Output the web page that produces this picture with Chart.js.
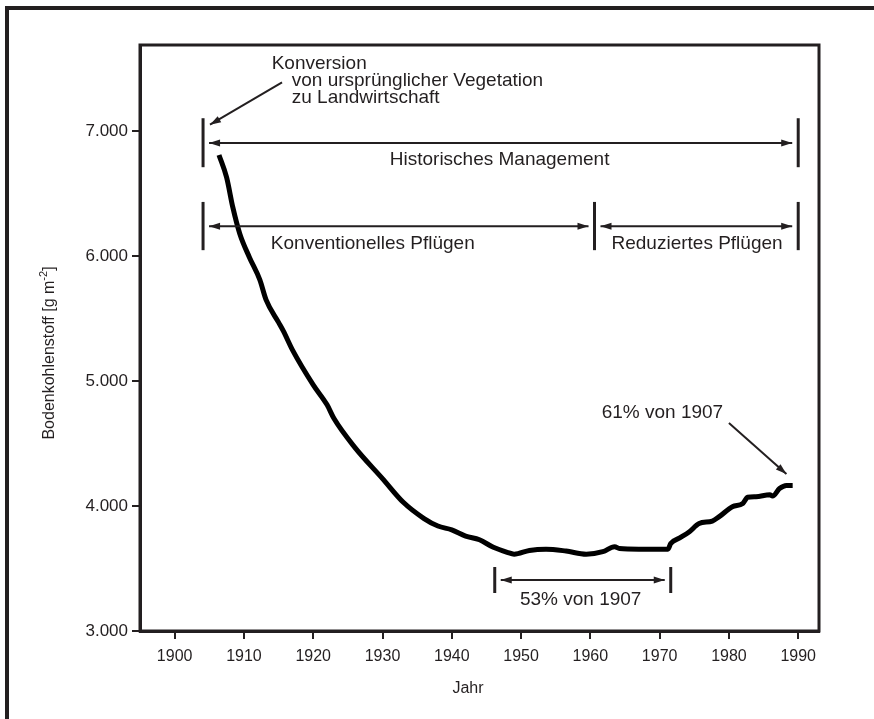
<!DOCTYPE html>
<html lang="de">
<head>
<meta charset="UTF-8">
<title>Bodenkohlenstoff</title>
<style>
  html, body { margin: 0; padding: 0; background: #fff; }
  canvas { display: block; }
</style>
<script src="https://cdn.jsdelivr.net/npm/chart.js@4"></script>
</head>
<body>
<canvas id="chart" width="874" height="719"></canvas>
<script>
// Werte
const years = [1906.4, 1907.5, 1908.4, 1909.4, 1910.8, 1912.3, 1913.2, 1915, 1915.7, 1917,
  1920, 1922, 1923, 1926, 1930, 1933, 1936, 1938, 1940, 1942, 1944, 1946, 1948, 1949,
  1951.2, 1953.6, 1956.5, 1959.4, 1961.8, 1963.5, 1964.2, 1967, 1971.2, 1971.6, 1972.9,
  1974.3, 1975.7, 1977.6, 1978.6, 1980.5, 1982, 1982.7, 1983.9, 1985.9, 1986.3, 1987.3,
  1988.3, 1989.2];
const carbon = [6810, 6630, 6390, 6180, 5990, 5810, 5650, 5470, 5400, 5250,
  4970, 4810, 4700, 4470, 4220, 4030, 3900, 3840, 3810, 3760, 3730, 3670, 3630, 3615,
  3645, 3655, 3640, 3615, 3635, 3675, 3660, 3655, 3655, 3700, 3745,
  3795, 3860, 3880, 3915, 3995, 4020, 4070, 4075, 4090, 4080, 4140,
  4165, 4165];

const xTicks = [1900, 1910, 1920, 1930, 1940, 1950, 1960, 1970, 1980, 1990];
const yTicks = [3000, 4000, 5000, 6000, 7000];
const yTickLabels = ['3.000', '4.000', '5.000', '6.000', '7.000'];

// Zeitabschnitte (Jahre)
const historyYears = [1904.1, 1990];
const conventionalYears = [1904.1, 1960.6];
const reducedYears = [1960.6, 1990];
const lowYears = [1946.2, 1971.6];

const INK = '#231f20';
const FONT = '"Liberation Sans", Arial, sans-serif';

function arrowHead(ctx, x1, y1, x2, y2) {
  const a = Math.atan2(y2 - y1, x2 - x1);
  const len = 11, w = 3.5;
  ctx.beginPath();
  ctx.moveTo(x2, y2);
  ctx.lineTo(x2 - len * Math.cos(a) + w * Math.sin(a), y2 - len * Math.sin(a) - w * Math.cos(a));
  ctx.lineTo(x2 - len * Math.cos(a) - w * Math.sin(a), y2 - len * Math.sin(a) + w * Math.cos(a));
  ctx.closePath();
  ctx.fill();
}

function arrow(ctx, x1, y1, x2, y2, both) {
  ctx.beginPath();
  ctx.moveTo(x1, y1);
  ctx.lineTo(x2, y2);
  ctx.stroke();
  arrowHead(ctx, x1, y1, x2, y2);
  if (both) arrowHead(ctx, x2, y2, x1, y1);
}

function bar(ctx, x, yTop, yBot, w) {
  ctx.save();
  ctx.lineWidth = w;
  ctx.beginPath();
  ctx.moveTo(x, yTop);
  ctx.lineTo(x, yBot);
  ctx.stroke();
  ctx.restore();
}

const annotations = {
  id: 'annotations',
  afterDraw(chart) {
    const { ctx, chartArea: ca } = chart;
    const sx = chart.scales.x, sy = chart.scales.y;
    const px = v => sx.getPixelForValue(v);
    const py = v => sy.getPixelForValue(v);

    ctx.save();
    ctx.fillStyle = INK;
    ctx.strokeStyle = INK;

    // Rahmen
    ctx.fillRect(5, 6, 869, 4);
    ctx.fillRect(5, 6, 4, 713);
    ctx.lineWidth = 3;
    ctx.strokeRect(ca.left, ca.top, ca.right - ca.left, ca.bottom - ca.top);

    // Historisches Management
    ctx.lineWidth = 2;
    const h1 = px(historyYears[0]), h2 = px(historyYears[1]);
    bar(ctx, h1, py(7104), py(6712), 3);
    bar(ctx, h2, py(7104), py(6712), 3);
    arrow(ctx, h1 + 6, py(6906), h2 - 6, py(6906), true);

    // Konventionelles / Reduziertes Pflügen
    const c1 = px(conventionalYears[0]), c2 = px(conventionalYears[1]);
    const r1 = px(reducedYears[0]), r2 = px(reducedYears[1]);
    bar(ctx, c1, py(6434), py(6048), 3);
    bar(ctx, c2, py(6434), py(6048), 3);
    bar(ctx, r2, py(6434), py(6048), 3);
    arrow(ctx, c1 + 6, py(6240), c2 - 6, py(6240), true);
    arrow(ctx, r1 + 6, py(6240), r2 - 6, py(6240), true);

    // 53% Abschnitt
    const l1 = px(lowYears[0]), l2 = px(lowYears[1]);
    bar(ctx, l1, py(3512), py(3304), 3);
    bar(ctx, l2, py(3512), py(3304), 3);
    arrow(ctx, l1 + 6, py(3408), l2 - 6, py(3408), true);

    // Pfeile zu Beschriftungen
    arrow(ctx, px(1915.5), py(7390), px(1905.1), py(7052), false);
    arrow(ctx, px(1980.0), py(4664), px(1988.3), py(4256), false);

    // Texte
    ctx.font = '19px ' + FONT;
    ctx.textBaseline = 'middle';
    ctx.textAlign = 'center';
    ctx.fillText('Historisches Management', px(1946.9), py(6768));
    ctx.fillText('Konventionelles Pflügen', px(1928.6), py(6096));
    ctx.fillText('Reduziertes Pflügen', px(1975.4), py(6096));
    ctx.fillText('53% von 1907', px(1958.6), py(3248));
    ctx.fillText('61% von 1907', px(1970.4), py(4744));

    ctx.textAlign = 'left';
    ctx.fillText('Konversion', px(1914.0), py(7536));
    ctx.fillText('von ursprünglicher Vegetation', px(1916.9), py(7400));
    ctx.fillText('zu Landwirtschaft', px(1916.9), py(7264));

    // Achsentitel
    ctx.font = '16px ' + FONT;
    ctx.textAlign = 'center';
    ctx.fillText('Jahr', 468, 689);

    ctx.translate(50, 353);
    ctx.rotate(-Math.PI / 2);
    const a = 'Bodenkohlenstoff [g m', s = '-2', b = ']';
    ctx.font = '16px ' + FONT;
    const wa = ctx.measureText(a).width, wb = ctx.measureText(b).width;
    ctx.font = '11px ' + FONT;
    const ws = ctx.measureText(s).width;
    let x = -(wa + ws + wb) / 2;
    ctx.textAlign = 'left';
    ctx.font = '16px ' + FONT;
    ctx.fillText(a, x, 0); x += wa;
    ctx.font = '11px ' + FONT;
    ctx.fillText(s, x, -6); x += ws;
    ctx.font = '16px ' + FONT;
    ctx.fillText(b, x, 0);
    ctx.restore();
  }
};

new Chart(document.getElementById('chart'), {
  type: 'line',
  data: {
    datasets: [{
      data: years.map((x, i) => ({ x: x, y: carbon[i] })),
      borderColor: '#000',
      borderWidth: 5,
      pointRadius: 0,
      cubicInterpolationMode: 'monotone',
      borderCapStyle: 'butt',
      fill: false
    }]
  },
  options: {
    responsive: false,
    animation: false,
    layout: { padding: { top: 45, right: 55, left: 0, bottom: 0 } },
    plugins: { legend: { display: false }, tooltip: { enabled: false } },
    scales: {
      x: {
        type: 'linear',
        min: 1895,
        max: 1993,
        afterBuildTicks: s => { s.ticks = xTicks.map(v => ({ value: v })); },
        afterFit: s => { s.height = 88; },
        grid: { drawOnChartArea: false, tickLength: 8, lineWidth: 2, color: INK },
        border: { color: INK, width: 3 },
        ticks: { color: INK, padding: 8, maxRotation: 0, font: { family: FONT, size: 16 },
          callback: v => String(v) }
      },
      y: {
        min: 3000,
        max: 7690,
        afterBuildTicks: s => { s.ticks = yTicks.map(v => ({ value: v })); },
        afterFit: s => { s.width = 140; },
        grid: { drawOnChartArea: false, tickLength: 8, lineWidth: 2, color: INK },
        border: { color: INK, width: 3 },
        ticks: { color: INK, padding: 4, font: { family: FONT, size: 17 },
          callback: v => yTickLabels[yTicks.indexOf(v)] }
      }
    }
  },
  plugins: [annotations]
});
</script>
</body>
</html>
